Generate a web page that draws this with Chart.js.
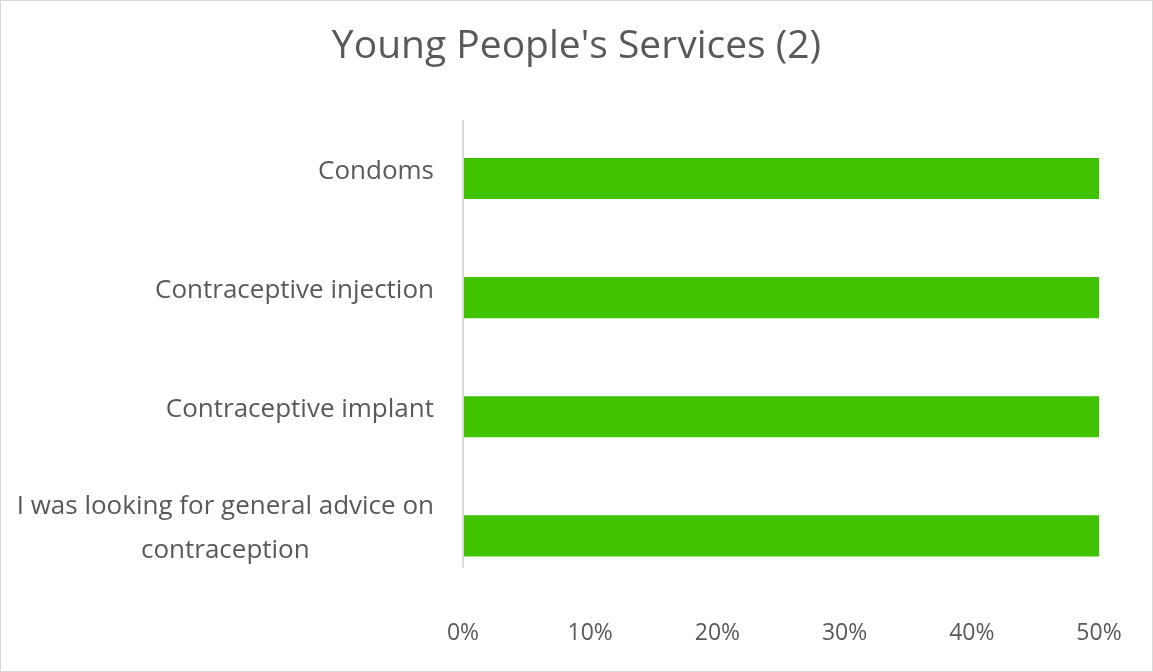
<!DOCTYPE html>
<html>
<head>
<meta charset="utf-8">
<script src="https://cdn.jsdelivr.net/npm/chart.js@4"></script>
<style>
  html, body { margin: 0; padding: 0; background: #ffffff; }
  #wrap { width: 1153px; height: 672px; box-sizing: border-box; border: 1px solid #d9d9d9; background: #fff; }
  canvas { display: block; }
</style>
</head>
<body>
<div id="wrap"><canvas id="c" width="1151" height="670"></canvas></div>
<script>
const TITLE = "Young People's Services (2)";
const categories = [
  "Condoms",
  "Contraceptive injection",
  "Contraceptive implant",
  ["I was looking for general advice on", "contraception"]
];
const percentValues = [50, 50, 50, 50];
const xTickMax = 50;
const xTickStep = 10;

const FONT = '"Open Sans", "Noto Sans", sans-serif';
const TEXT = '#595959';

const decorPlugin = {
  id: 'decor',
  afterDraw(chart) {
    const s = chart.scales.y;
    const ca = chart.chartArea;
    const ctx = chart.ctx;
    ctx.save();
    // title, centred on the whole canvas
    ctx.font = '39px ' + FONT;
    ctx.fillStyle = TEXT;
    ctx.textAlign = 'center';
    ctx.textBaseline = 'middle';
    ctx.fillText(TITLE, chart.width / 2, 46);
    // value axis line
    ctx.strokeStyle = '#d9d9d9';
    ctx.lineWidth = 2;
    ctx.beginPath();
    ctx.moveTo(s.right, ca.top + 1);
    ctx.lineTo(s.right, ca.bottom - 28);
    ctx.stroke();
    // category labels
    ctx.font = '26px ' + FONT;
    const lineH = 44;
    categories.forEach((lab, i) => {
      const lines = Array.isArray(lab) ? lab : [lab];
      const y = s.getPixelForValue(i) - 7;
      const maxW = Math.max(...lines.map(l => ctx.measureText(l).width));
      const right = s.right - 29;
      const cx = right - maxW / 2;
      const y0 = y - (lines.length - 1) * lineH / 2;
      lines.forEach((ln, j) => ctx.fillText(ln, cx, y0 + j * lineH));
    });
    ctx.restore();
  }
};

new Chart(document.getElementById('c'), {
  type: 'bar',
  data: {
    labels: categories,
    datasets: [{
      data: percentValues,
      backgroundColor: '#40C400',
      borderWidth: 0,
      barPercentage: 1,
      categoryPercentage: 0.345
    }]
  },
  options: {
    indexAxis: 'y',
    responsive: false,
    animation: false,
    devicePixelRatio: 1,
    layout: { padding: { left: 0, right: 53, top: 118, bottom: 0 } },
    plugins: {
      legend: { display: false },
      tooltip: { enabled: false },
      title: { display: false }
    },
    scales: {
      x: {
        min: 0,
        max: xTickMax,
        grid: { display: false, drawTicks: false },
        border: { display: false },
        ticks: {
          stepSize: xTickStep,
          padding: 24,
          color: TEXT,
          font: { family: FONT, size: 23 },
          callback: v => v + '%'
        }
      },
      y: {
        grid: { display: false, drawTicks: false },
        border: { display: false },
        ticks: { display: false },
        afterFit(scale) { scale.width = 462; }
      }
    }
  },
  plugins: [decorPlugin]
});
</script>
</body>
</html>
